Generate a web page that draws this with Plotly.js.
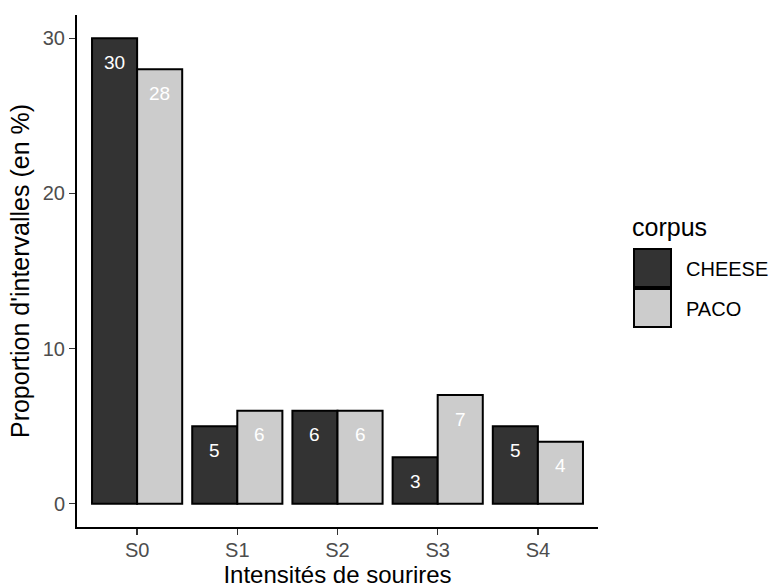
<!DOCTYPE html>
<html>
<head>
<meta charset="utf-8">
<script src="https://cdn.plot.ly/plotly-3.0.1.min.js"></script>
<style>html,body{margin:0;padding:0;background:#fff;}#chart{width:776px;height:588px;}</style>
</head>
<body>
<div id="chart"></div>
<script>
const categories = ["S0", "S1", "S2", "S3", "S4"];
const seriesNames = ["CHEESE", "PACO"];
const cheese = [30, 5, 6, 3, 5];
const paco = [28, 6, 6, 7, 4];
const yTicks = [0, 10, 20, 30];

const colors = ["#333333", "#cccccc"];
const values = [cheese, paco];
const FONT = "Liberation Sans, Arial, sans-serif";

const traces = values.map((v, i) => ({
  type: "bar",
  name: seriesNames[i],
  x: categories,
  y: v,
  marker: {color: colors[i], line: {color: "#000000", width: 2}},
  showlegend: false,
  hoverinfo: "x+y+name"
}));

// value labels inside bars (positioned on axis scale)
const annotations = [];
const offs = [-0.225, 0.225];
values.forEach((v, s) => {
  v.forEach((val, k) => {
    annotations.push({
      x: k + offs[s], y: val, xref: "x", yref: "y",
      text: String(val), showarrow: false,
      yanchor: "middle", yshift: -24,
      font: {family: FONT, size: 19, color: "#ffffff"}
    });
  });
});

// manual legend (ggplot style)
const L = 77, W = 521, T = 15, H = 512;
const px = x => (x - L) / W;
const py = y => (T + H - y) / H;
annotations.push({
  xref: "paper", yref: "paper", x: px(630), y: py(227),
  xanchor: "left", yanchor: "middle", showarrow: false,
  text: "corpus", font: {family: FONT, size: 25, color: "#000000"}
});
const shapes = [];
const boxTops = [249, 289];
seriesNames.forEach((n, i) => {
  shapes.push({
    type: "rect", xref: "paper", yref: "paper",
    x0: px(634), x1: px(671), y0: py(boxTops[i]), y1: py(boxTops[i] + 38),
    fillcolor: colors[i], line: {color: "#000000", width: 2}
  });
  annotations.push({
    xref: "paper", yref: "paper", x: px(684), y: py(boxTops[i] + 20),
    xanchor: "left", yanchor: "middle", showarrow: false,
    text: n, font: {family: FONT, size: 20, color: "#000000"}
  });
});

const layout = {
  width: 776, height: 588,
  margin: {l: 77, r: 178, t: 15, b: 61},
  paper_bgcolor: "#ffffff", plot_bgcolor: "#ffffff",
  barmode: "group", bargap: 0.1, bargroupgap: 0,
  font: {family: FONT},
  xaxis: {
    type: "category", categoryorder: "array", categoryarray: categories,
    range: [-0.6, 4.6],
    showline: true, linecolor: "#000000", linewidth: 2,
    ticks: "outside", ticklen: 6, tickcolor: "#333333", tickwidth: 1.5,
    ticklabelstandoff: -2,
    showgrid: false, zeroline: false,
    tickfont: {family: FONT, size: 20, color: "#4d4d4d"},
    title: {text: "Intensités de sourires", font: {family: FONT, size: 24, color: "#000000"}, standoff: 10}
  },
  yaxis: {
    range: [-1.5, 31.5],
    tickvals: yTicks, ticktext: yTicks.map(String),
    showline: true, linecolor: "#000000", linewidth: 2,
    ticks: "outside", ticklen: 6, tickcolor: "#333333", tickwidth: 1.5,
    showgrid: false, zeroline: false,
    tickfont: {family: FONT, size: 20, color: "#4d4d4d"},
    title: {text: "Proportion d'intervalles (en %)", font: {family: FONT, size: 25, color: "#000000"}, standoff: 6}
  },
  annotations: annotations,
  shapes: shapes,
  showlegend: false
};

Plotly.newPlot("chart", traces, layout, {displayModeBar: false, staticPlot: true});
</script>
</body>
</html>
